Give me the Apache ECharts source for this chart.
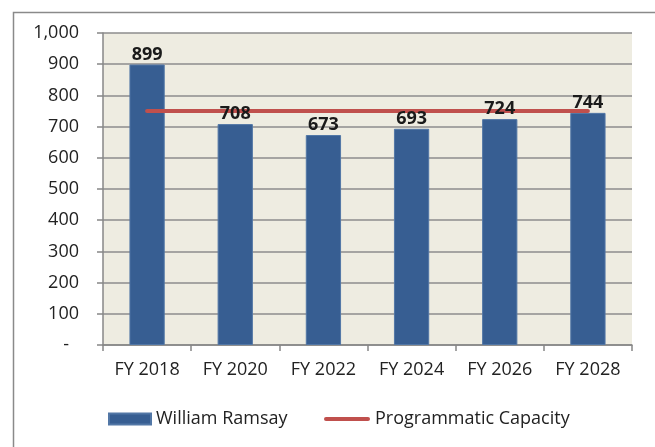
<!DOCTYPE html>
<html>
<head>
<meta charset="utf-8">
<script src="https://cdn.jsdelivr.net/npm/echarts@6/dist/echarts.min.js"></script>
<style>html,body{margin:0;padding:0;background:#fff}#c{width:655px;height:447px}</style>
</head>
<body>
<div id="c"></div>
<script>
const categories = ['FY 2018', 'FY 2020', 'FY 2022', 'FY 2024', 'FY 2026', 'FY 2028'];
const ramsayValues = [899, 708, 673, 693, 724, 744];
const capacityValues = [750, 750, 750, 750, 750, 750];
const seriesNames = ['William Ramsay', 'Programmatic Capacity'];

const FONT = '"Open Sans", "Noto Sans", sans-serif';
const FS = 18;
const chart = echarts.init(document.getElementById('c'), null, {renderer: 'canvas'});
chart.setOption({
  animation: false,
  backgroundColor: '#fff',
  graphic: [{
    type: 'rect', left: 11, top: 10, z: -10,
    shape: {width: 700, height: 500},
    style: {fill: 'none', stroke: '#8a8a8a', lineWidth: 1.5}
  }],
  grid: {left: 103, right: 23, top: 33, bottom: 102, show: true, backgroundColor: '#EEECE1', borderWidth: 0},
  legend: [{
    data: [seriesNames[0]], left: 103, top: 405, itemWidth: 42, itemHeight: 11, itemGap: 4,
    textStyle: {fontFamily: FONT, fontSize: FS, color: '#222'}, icon: 'rect'
  }, {
    data: [{name: seriesNames[1], icon: 'path://M2,0 L44,0 A2,2 0 0 1 44,4 L2,4 A2,2 0 0 1 2,0 Z'}],
    left: 319, top: 405, itemWidth: 46, itemHeight: 11, itemGap: 3,
    itemStyle: {color: '#C0504D'},
    textStyle: {fontFamily: FONT, fontSize: FS, color: '#222'}
  }],
  xAxis: {
    type: 'category', data: categories,
    axisLine: {lineStyle: {color: '#878787', width: 1.5}},
    axisTick: {show: true, length: 6, lineStyle: {color: '#878787', width: 1.5}},
    axisLabel: {fontFamily: FONT, fontSize: FS, color: '#222', margin: 16}
  },
  yAxis: {
    type: 'value', min: 0, max: 1000, interval: 100,
    axisLine: {show: true, lineStyle: {color: '#878787', width: 1.5}},
    axisTick: {show: true, length: 6, lineStyle: {color: '#878787', width: 1.5}},
    splitLine: {lineStyle: {color: '#8c8c8c', width: 1.5}},
    axisLabel: {
      fontFamily: FONT, fontSize: FS, color: '#222', margin: 24,
      formatter: v => v === 0 ? '{d|-}' : v.toLocaleString('en-US'),
      rich: {d: {fontFamily: FONT, fontSize: FS, color: '#222', padding: [0, 10, 0, 0]}}
    }
  },
  series: [{
    name: seriesNames[0], type: 'bar', data: ramsayValues, barCategoryGap: '60%',
    itemStyle: {color: '#375E92', borderColor: '#5277a6', borderWidth: 1},
    z: 2
  }, {
    name: seriesNames[1], type: 'line', data: capacityValues, symbol: 'none', showSymbol: false,
    lineStyle: {color: '#C0504D', width: 4, cap: 'round'}, itemStyle: {color: '#C0504D'},
    z: 3
  }, {
    name: 'labels', type: 'scatter', data: ramsayValues, symbolSize: 0, silent: true,
    itemStyle: {opacity: 1, color: '#1a1a1a'},
    label: {show: true, position: 'top', distance: 1, fontFamily: FONT, fontSize: FS, fontWeight: 'bold', color: '#1a1a1a', opacity: 1, formatter: p => p.value},
    z: 4
  }]
});
</script>
</body>
</html>
